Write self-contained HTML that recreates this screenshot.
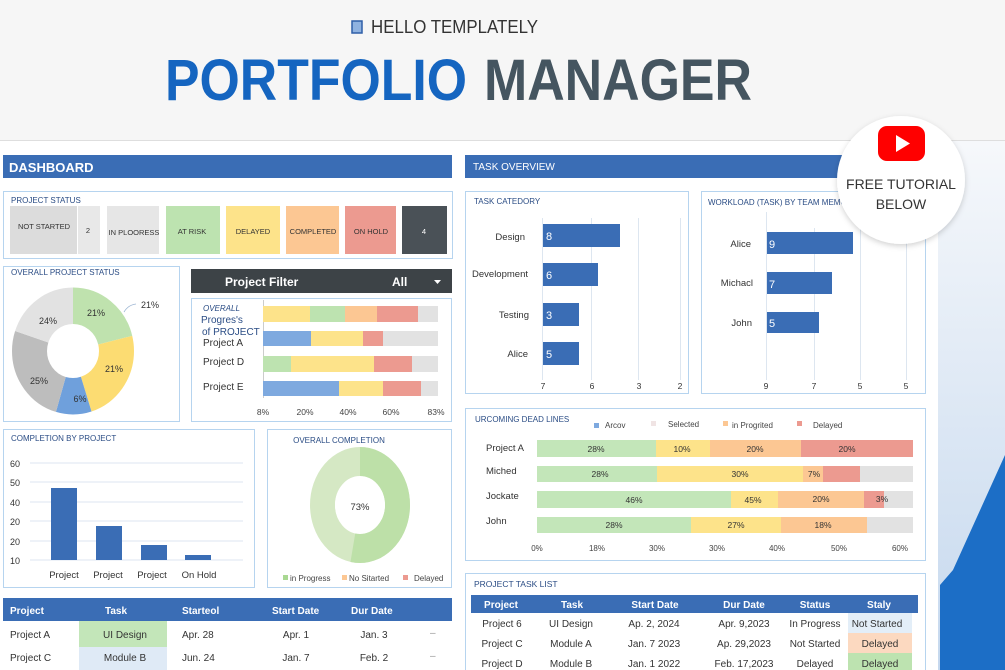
<!DOCTYPE html>
<html><head><meta charset="utf-8"><style>
html,body{margin:0;padding:0;background:#fff}
svg{display:block;font-family:"Liberation Sans",sans-serif}
</style></head><body>
<svg width="1005" height="670" viewBox="0 0 1005 670" xmlns="http://www.w3.org/2000/svg">
<defs>
<linearGradient id="rg" x1="0" y1="0" x2="0" y2="1"><stop offset="0" stop-color="#f6f8fb"/><stop offset="1" stop-color="#c5d8ee"/></linearGradient>
<filter id="sh" x="-20%" y="-20%" width="140%" height="140%"><feDropShadow dx="0" dy="2" stdDeviation="3" flood-color="#000" flood-opacity="0.18"/></filter>
</defs>
<rect width="1005" height="140" fill="#f6f6f6"/>
<line x1="0" y1="140.5" x2="1005" y2="140.5" stroke="#dedede"/>
<rect x="938" y="141" width="67" height="529" fill="url(#rg)"/>
<polygon points="1005,455 1005,670 940,670 940,585 953,570" fill="#1c6ec6"/>

<!-- title -->
<rect x="352" y="21" width="10" height="12" fill="#8fb2e0" stroke="#2f5fa8" stroke-width="1.5"/>
<text x="371" y="33" font-size="18" fill="#333" textLength="167" lengthAdjust="spacingAndGlyphs">HELLO TEMPLATELY</text>
<text x="165" y="100" font-size="58" font-weight="bold" fill="#1565c0" textLength="302" lengthAdjust="spacingAndGlyphs">PORTFOLIO</text>
<text x="484" y="100" font-size="58" font-weight="bold" fill="#455560" textLength="268" lengthAdjust="spacingAndGlyphs">MANAGER</text>

<!-- headers -->
<rect x="3" y="155" width="449" height="23" fill="#3a6db5"/>
<text x="9" y="172" font-size="13" font-weight="bold" fill="#fff">DASHBOARD</text>
<rect x="465" y="155" width="400" height="23" fill="#3a6db5"/>
<text x="473" y="170" font-size="10" fill="#fff">TASK OVERVIEW</text>

<!-- project status -->
<rect x="3.5" y="191.5" width="449" height="67" fill="#fff" stroke="#b6d4ef"/>
<text x="11" y="203" font-size="8" fill="#2b4d85">PROJECT STATUS</text>
<rect x="10" y="206" width="67" height="48" fill="#dcdcdc"/>
<rect x="78" y="206" width="22" height="48" fill="#e8e8e8"/>
<rect x="107" y="206" width="52" height="48" fill="#e6e6e6"/>
<rect x="166" y="206" width="54" height="48" fill="#bde3b0"/>
<rect x="226" y="206" width="54" height="48" fill="#fde38a"/>
<rect x="286" y="206" width="53" height="48" fill="#fcc793"/>
<rect x="345" y="206" width="51" height="48" fill="#ec9a90"/>
<rect x="402" y="206" width="45" height="48" fill="#4a5157"/>
<g font-size="7.5" fill="#333" text-anchor="middle">
<text x="44" y="229">NOT STARTED</text><text x="88" y="233">2</text>
<text x="134" y="235">IN PLOORESS</text><text x="192" y="234">AT RISK</text>
<text x="253" y="234">DELAYED</text><text x="313" y="234">COMPLETED</text>
<text x="371" y="234">ON HOLD</text><text x="424" y="234" fill="#fff">4</text>
</g>

<!-- overall project status -->
<rect x="3.5" y="266.5" width="176" height="155" fill="#fff" stroke="#b6d4ef"/>
<text x="11" y="275" font-size="8" fill="#2b4d85">OVERALL PROJECT STATUS</text>
<g transform="translate(73,351) scale(1,1.04) rotate(-90)" fill="none" stroke-width="35">
<circle r="43.5" stroke="#bfe2ae" stroke-dasharray="57.7 300" stroke-dashoffset="0"/>
<circle r="43.5" stroke="#fcdc72" stroke-dasharray="65.3 300" stroke-dashoffset="-57.7"/>
<circle r="43.5" stroke="#6fa0dc" stroke-dasharray="25.8 300" stroke-dashoffset="-123"/>
<circle r="43.5" stroke="#bdbdbd" stroke-dasharray="69.8 300" stroke-dashoffset="-148.8"/>
<circle r="43.5" stroke="#e2e2e2" stroke-dasharray="54.7 300" stroke-dashoffset="-218.6"/>
</g>
<g font-size="9" fill="#333" text-anchor="middle">
<text x="96" y="316">21%</text><text x="114" y="372">21%</text><text x="80" y="402">6%</text>
<text x="39" y="384">25%</text><text x="48" y="324">24%</text><text x="150" y="308">21%</text>
</g>
<path d="M124 312 Q128 305 136 304" fill="none" stroke="#9db6d3" stroke-width="0.8"/>

<!-- project filter -->
<rect x="191" y="269" width="261" height="24" fill="#3d4347"/>
<text x="225" y="286" font-size="12" font-weight="bold" fill="#fff">Project Filter</text>
<text x="392" y="286" font-size="12" font-weight="bold" fill="#fff">All</text>
<polygon points="434,280 441,280 437.5,284" fill="#fff"/>

<!-- progress -->
<rect x="191.5" y="298.5" width="260" height="123" fill="#fff" stroke="#b6d4ef"/>
<text x="203" y="311" font-size="8" font-style="italic" fill="#2b4d85">OVERALL</text>
<text x="201" y="323" font-size="10" fill="#2b4d85">Progres's</text>
<text x="202" y="335" font-size="10" fill="#2b4d85">of PROJECT</text>
<g font-size="10" fill="#333"><text x="203" y="346">Project A</text><text x="203" y="365">Project D</text><text x="203" y="390">Project E</text></g>
<line x1="263.5" y1="300" x2="263.5" y2="398" stroke="#ccc"/>
<rect x="263" y="306" width="47" height="16" fill="#fde38a"/><rect x="310" y="306" width="35" height="16" fill="#bde3b0"/><rect x="345" y="306" width="32" height="16" fill="#fcc793"/><rect x="377" y="306" width="41" height="16" fill="#ec9a90"/><rect x="418" y="306" width="20" height="16" fill="#e2e2e2"/>
<rect x="263" y="331" width="48" height="15" fill="#7ea9df"/><rect x="311" y="331" width="52" height="15" fill="#fde38a"/><rect x="363" y="331" width="20" height="15" fill="#ec9a90"/><rect x="383" y="331" width="55" height="15" fill="#e2e2e2"/>
<rect x="263" y="356" width="28" height="16" fill="#bde3b0"/><rect x="291" y="356" width="83" height="16" fill="#fde38a"/><rect x="374" y="356" width="38" height="16" fill="#ec9a90"/><rect x="412" y="356" width="26" height="16" fill="#e2e2e2"/>
<rect x="263" y="381" width="76" height="15" fill="#7ea9df"/><rect x="339" y="381" width="44" height="15" fill="#fde38a"/><rect x="383" y="381" width="38" height="15" fill="#ec9a90"/><rect x="421" y="381" width="17" height="15" fill="#e2e2e2"/>
<g font-size="8.5" fill="#444" text-anchor="middle"><text x="263" y="415">8%</text><text x="305" y="415">20%</text><text x="348" y="415">40%</text><text x="391" y="415">60%</text><text x="436" y="415">83%</text></g>

<!-- completion by project -->
<rect x="3.5" y="429.5" width="251" height="158" fill="#fff" stroke="#b6d4ef"/>
<text x="11" y="441" font-size="8" fill="#2b4d85">COMPLETION BY PROJECT</text>
<g stroke="#dde6f0"><line x1="30" y1="463" x2="243" y2="463"/><line x1="30" y1="482" x2="243" y2="482"/><line x1="30" y1="502" x2="243" y2="502"/><line x1="30" y1="521" x2="243" y2="521"/><line x1="30" y1="541" x2="243" y2="541"/><line x1="30" y1="560" x2="243" y2="560"/></g>
<g font-size="9" fill="#333"><text x="10" y="467">60</text><text x="10" y="486">50</text><text x="10" y="506">40</text><text x="10" y="525">20</text><text x="10" y="545">20</text><text x="10" y="564">10</text></g>
<g fill="#3a6db5"><rect x="51" y="488" width="26" height="72"/><rect x="96" y="526" width="26" height="34"/><rect x="141" y="545" width="26" height="15"/><rect x="185" y="555" width="26" height="5"/></g>
<g font-size="9.5" fill="#333" text-anchor="middle"><text x="64" y="578">Project</text><text x="108" y="578">Project</text><text x="152" y="578">Project</text><text x="199" y="578">On Hold</text></g>

<!-- overall completion -->
<rect x="267.5" y="429.5" width="184" height="158" fill="#fff" stroke="#b6d4ef"/>
<text x="339" y="443" font-size="8" fill="#2b4d85" text-anchor="middle">OVERALL COMPLETION</text>
<g transform="translate(360,505) scale(1,1.16) rotate(-90)" fill="none" stroke-width="25">
<circle r="37.5" stroke="#d5e8c4"/>
<circle r="37.5" stroke="#bde0a8" stroke-dasharray="124.8 300"/>
</g>
<ellipse cx="360" cy="505" rx="25" ry="27" fill="#fff"/>
<text x="360" y="510" font-size="9.5" fill="#333" text-anchor="middle">73%</text>
<g font-size="8" fill="#444"><rect x="283" y="575" width="5" height="5" fill="#a9d892"/><text x="290" y="581">in Progress</text>
<rect x="342" y="575" width="5" height="5" fill="#fcc793"/><text x="349" y="581">No Sitarted</text>
<rect x="403" y="575" width="5" height="5" fill="#ec9a90"/><text x="414" y="581">Delayed</text></g>

<!-- bottom-left table -->
<rect x="3" y="598" width="449" height="23" fill="#3a6db5"/>
<g font-size="10" font-weight="bold" fill="#fff"><text x="10" y="614">Project</text><text x="105" y="614">Task</text><text x="182" y="614">Starteol</text><text x="272" y="614">Start Date</text><text x="351" y="614">Dur Date</text></g>
<rect x="79" y="621" width="88" height="26" fill="#c3e6b9"/><rect x="79" y="647" width="88" height="23" fill="#dfeaf6"/>
<g font-size="10" fill="#333"><text x="10" y="638">Project A</text><text x="10" y="661">Project C</text>
<text x="125" y="638" text-anchor="middle">UI Design</text><text x="125" y="661" text-anchor="middle">Module B</text>
<text x="182" y="638">Apr.  28</text><text x="182" y="661">Jun. 24</text>
<text x="296" y="638" text-anchor="middle">Apr. 1</text><text x="296" y="661" text-anchor="middle">Jan. 7</text>
<text x="374" y="638" text-anchor="middle">Jan. 3</text><text x="374" y="661" text-anchor="middle">Feb. 2</text>
<text x="430" y="636" fill="#999">–</text><text x="430" y="659" fill="#999">–</text></g>

<!-- task category -->
<rect x="465.5" y="191.5" width="223" height="202" fill="#fff" stroke="#b6d4ef"/>
<text x="474" y="204" font-size="8" fill="#2b4d85">TASK CATEDORY</text>
<g stroke="#dde6f0"><line x1="542.5" y1="218" x2="542.5" y2="380"/><line x1="591.5" y1="218" x2="591.5" y2="380"/><line x1="638.5" y1="218" x2="638.5" y2="380"/><line x1="680.5" y1="218" x2="680.5" y2="380"/></g>
<g font-size="9.5" fill="#333" text-anchor="end"><text x="525" y="240">Design</text><text x="528" y="277">Development</text><text x="529" y="318">Testing</text><text x="528" y="357">Alice</text></g>
<g fill="#3a6db5"><rect x="543" y="224" width="77" height="23"/><rect x="543" y="263" width="55" height="23"/><rect x="543" y="303" width="36" height="23"/><rect x="543" y="342" width="36" height="23"/></g>
<g font-size="11" fill="#fff"><text x="546" y="240">8</text><text x="546" y="279">6</text><text x="546" y="319">3</text><text x="546" y="358">5</text></g>
<g font-size="8.5" fill="#333" text-anchor="middle"><text x="543" y="389">7</text><text x="592" y="389">6</text><text x="639" y="389">3</text><text x="680" y="389">2</text></g>

<!-- workload -->
<rect x="701.5" y="191.5" width="224" height="202" fill="#fff" stroke="#b6d4ef"/>
<text x="708" y="205" font-size="8" fill="#2b4d85">WORKLOAD (TASK) BY TEAM MEMO</text>
<g stroke="#dde6f0"><line x1="766.5" y1="212" x2="766.5" y2="380"/><line x1="814.5" y1="228" x2="814.5" y2="380"/><line x1="860.5" y1="228" x2="860.5" y2="380"/><line x1="906.5" y1="228" x2="906.5" y2="380"/></g>
<g font-size="9.5" fill="#333" text-anchor="end"><text x="751" y="247">Alice</text><text x="753" y="286">Michacl</text><text x="752" y="326">John</text></g>
<g fill="#3a6db5"><rect x="767" y="232" width="86" height="22"/><rect x="767" y="272" width="65" height="22"/><rect x="767" y="312" width="52" height="21"/></g>
<g font-size="11" fill="#fff"><text x="769" y="248">9</text><text x="769" y="288">7</text><text x="769" y="327">5</text></g>
<g font-size="8.5" fill="#333" text-anchor="middle"><text x="766" y="389">9</text><text x="814" y="389">7</text><text x="860" y="389">5</text><text x="906" y="389">5</text></g>

<!-- youtube badge -->
<circle cx="901" cy="180" r="64" fill="#fff" filter="url(#sh)"/>
<rect x="878" y="126" width="47" height="35" rx="9" fill="#f00"/>
<polygon points="896,135 896,152 910,143.5" fill="#fff"/>
<text x="901" y="189" font-size="14" fill="#333" text-anchor="middle">FREE TUTORIAL</text>
<text x="901" y="209" font-size="14" fill="#333" text-anchor="middle">BELOW</text>

<!-- deadlines -->
<rect x="465.5" y="408.5" width="460" height="152" fill="#fff" stroke="#b6d4ef"/>
<text x="475" y="422" font-size="8" fill="#2b4d85">URCOMING DEAD LINES</text>
<g font-size="8" fill="#444"><rect x="594" y="423" width="5" height="5" fill="#7ea9df"/><text x="605" y="428">Arcov</text>
<rect x="651" y="421" width="5" height="5" fill="#f0e4e4"/><text x="668" y="427">Selected</text>
<rect x="723" y="421" width="5" height="5" fill="#fcc793"/><text x="732" y="428">in Progrited</text>
<rect x="797" y="421" width="5" height="5" fill="#ec9a90"/><text x="813" y="428">Delayed</text></g>
<g font-size="9.5" fill="#333"><text x="486" y="451">Project A</text><text x="486" y="474">Miched</text><text x="486" y="499">Jockate</text><text x="486" y="524">John</text></g>
<rect x="537" y="440" width="119" height="17" fill="#c3e6b9"/><rect x="656" y="440" width="54" height="17" fill="#fde38a"/><rect x="710" y="440" width="91" height="17" fill="#fcc793"/><rect x="801" y="440" width="112" height="17" fill="#ec9a90"/>
<rect x="537" y="466" width="120" height="16" fill="#c3e6b9"/><rect x="657" y="466" width="146" height="16" fill="#fde38a"/><rect x="803" y="466" width="20" height="16" fill="#fcc793"/><rect x="823" y="466" width="37" height="16" fill="#ec9a90"/><rect x="860" y="466" width="53" height="16" fill="#e2e2e2"/>
<rect x="537" y="491" width="194" height="17" fill="#c3e6b9"/><rect x="731" y="491" width="47" height="17" fill="#fde38a"/><rect x="778" y="491" width="86" height="17" fill="#fcc793"/><rect x="864" y="491" width="20" height="17" fill="#ec9a90"/><rect x="884" y="491" width="29" height="17" fill="#e2e2e2"/>
<rect x="537" y="517" width="154" height="16" fill="#c3e6b9"/><rect x="691" y="517" width="90" height="16" fill="#fde38a"/><rect x="781" y="517" width="86" height="16" fill="#fcc793"/><rect x="867" y="517" width="46" height="16" fill="#e2e2e2"/>
<g font-size="8.5" fill="#333" text-anchor="middle">
<text x="596" y="452">28%</text><text x="682" y="452">10%</text><text x="755" y="452">20%</text><text x="847" y="452">20%</text>
<text x="600" y="477">28%</text><text x="740" y="477">30%</text><text x="814" y="477">7%</text>
<text x="634" y="503">46%</text><text x="753" y="503">45%</text><text x="821" y="502">20%</text><text x="882" y="502">3%</text>
<text x="614" y="528">28%</text><text x="736" y="528">27%</text><text x="823" y="528">18%</text></g>
<g font-size="8" fill="#444" text-anchor="middle"><text x="537" y="551">0%</text><text x="597" y="551">18%</text><text x="657" y="551">30%</text><text x="717" y="551">30%</text><text x="777" y="551">40%</text><text x="839" y="551">50%</text><text x="900" y="551">60%</text></g>

<!-- project task list -->
<rect x="465.5" y="573.5" width="460" height="100" fill="#fff" stroke="#b6d4ef"/>
<text x="474" y="587" font-size="8.5" fill="#2b4d85">PROJECT TASK LIST</text>
<rect x="471" y="595" width="447" height="18" fill="#3a6db5"/>
<g font-size="10" font-weight="bold" fill="#fff" text-anchor="middle"><text x="501" y="608">Project</text><text x="572" y="608">Task</text><text x="655" y="608">Start Date</text><text x="744" y="608">Dur Date</text><text x="815" y="608">Status</text><text x="879" y="608">Staly</text></g>
<rect x="848" y="613" width="64" height="20" fill="#e3eef8"/><rect x="848" y="633" width="64" height="20" fill="#fcd9c0"/><rect x="848" y="653" width="64" height="17" fill="#bde3b0"/>
<g font-size="10" fill="#333" text-anchor="middle">
<text x="502" y="627">Project 6</text><text x="571" y="627">UI Design</text><text x="654" y="627">Ap. 2, 2024</text><text x="744" y="627">Apr. 9,2023</text><text x="815" y="627">In Progress</text><text x="877" y="627">Not Started</text>
<text x="502" y="647">Project C</text><text x="571" y="647">Module A</text><text x="654" y="647">Jan. 7 2023</text><text x="744" y="647">Ap. 29,2023</text><text x="815" y="647">Not Started</text><text x="880" y="647">Delayed</text>
<text x="502" y="667">Project D</text><text x="571" y="667">Module B</text><text x="654" y="667">Jan. 1 2022</text><text x="744" y="667">Feb. 17,2023</text><text x="815" y="667">Delayed</text><text x="880" y="667">Delayed</text></g>
</svg>
</body></html>
